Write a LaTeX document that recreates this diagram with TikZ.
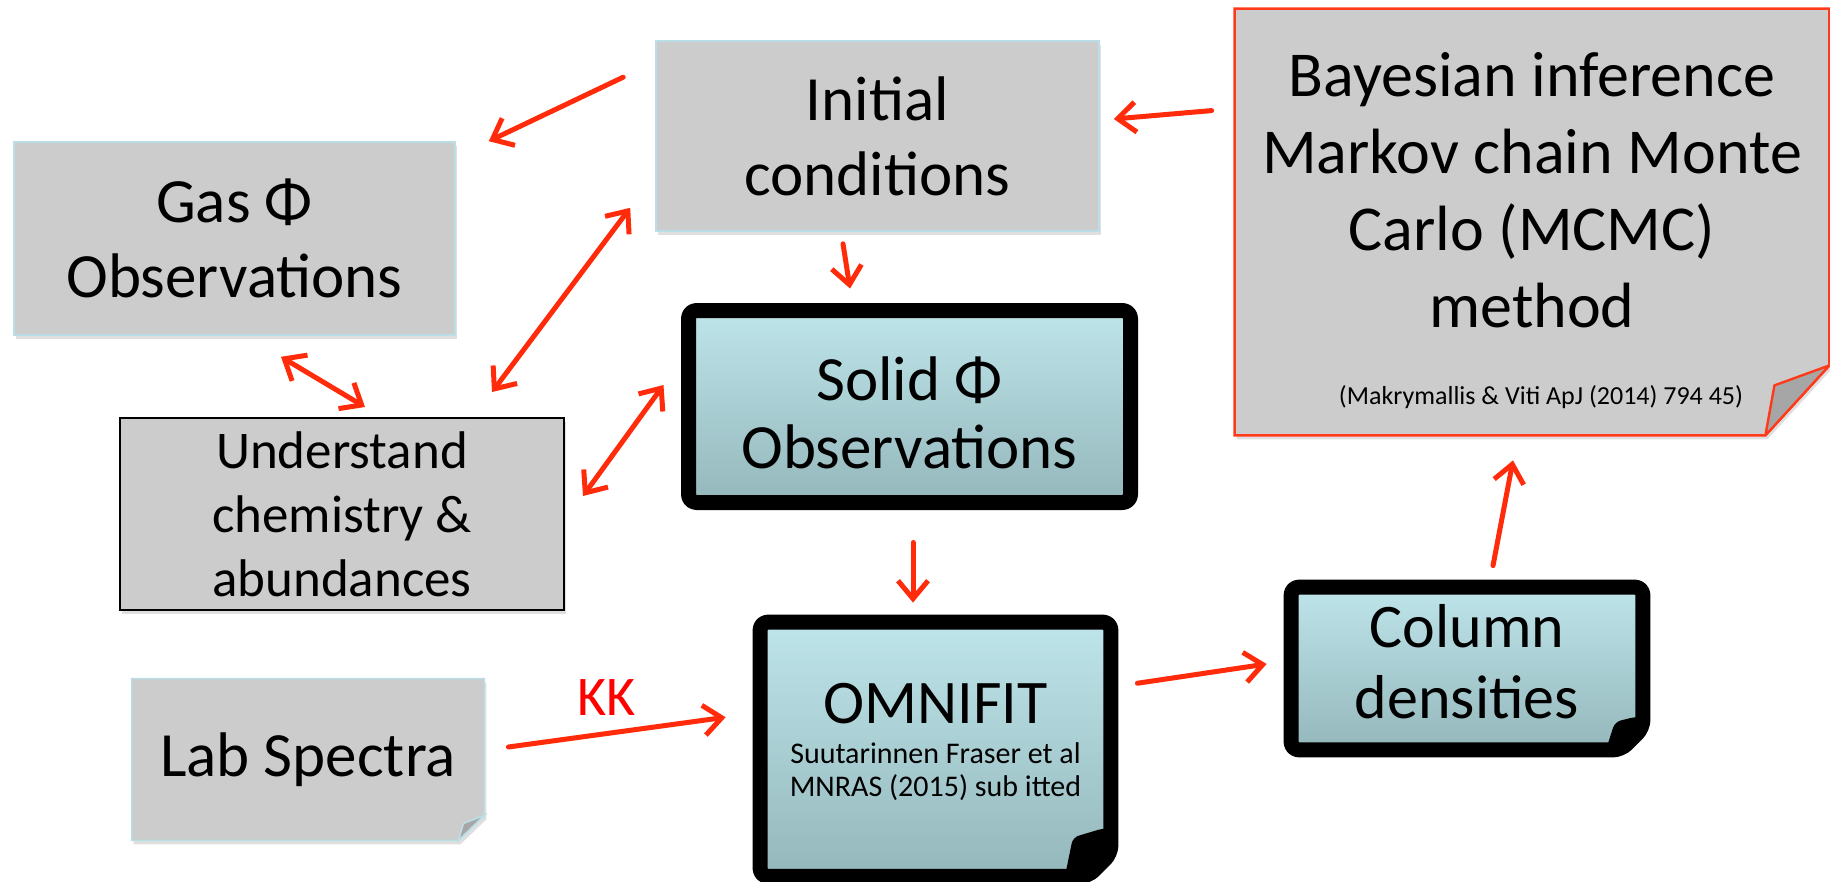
\documentclass[tikz,border=0pt]{standalone}
\usepackage{fontspec}
\setmainfont{Carlito}
\usepackage{tikz}
\usetikzlibrary{arrows.meta,backgrounds,shadows}

\definecolor{boxgray}{HTML}{CCCCCC}
\definecolor{flapgray}{HTML}{A6A6A6}
\definecolor{edgecyan}{HTML}{B9DEE5}
\definecolor{arrowred}{HTML}{FF2B0A}
\definecolor{notered}{HTML}{FF3A1A}
\definecolor{icetop}{HTML}{BEE5EA}
\definecolor{icebottom}{HTML}{94B7BB}

\begin{document}
\begin{tikzpicture}[%
x=0.5pt, y=-0.5pt,
>={Straight Barb[length=9pt,width=15pt]},
every node/.style={inner sep=0pt, align=center},
big/.style={font=\fontsize{31.5}{37.5}\selectfont},
mid/.style={font=\fontsize{26.5}{32}\selectfont},
shade/.style={drop shadow={opacity=0.25,shadow xshift=1pt,shadow yshift=-2pt}},
graybox/.style={fill=boxgray, draw=edgecyan, line width=0.8pt, shade},
chembox/.style={fill=boxgray, draw=black, line width=1pt, shade},
icebox/.style={top color=icetop, bottom color=icebottom, draw=black, line width=7.5pt, rounded corners=4pt, line join=round},
flap/.style={fill=flapgray, draw=edgecyan, line width=0.8pt},
notebody/.style={fill=boxgray, draw=notered, line width=1.2pt, shade},
noteflap/.style={fill=flapgray, draw=notered, line width=1.2pt, line join=round},
link/.style={->, draw=arrowred, line width=2.5pt, line cap=round},
both/.style={link, <->},
kklabel/.style={text=red, font=\fontsize{28}{30}\selectfont}
]

\useasboundingbox (0,0) rectangle (1830,882);

\node[graybox, big, minimum width=220.5pt, minimum height=96.5pt] (gas) at (234.5,238.5) {Gas Φ\\Observations};
\node[graybox, big, minimum width=221.5pt, minimum height=95pt] (init) at (877.5,136) {Initial\\conditions};
\node[chembox, mid, minimum width=222pt, minimum height=96pt] (chem) at (342,514) {Understand\\chemistry \&\\abundances};
\node[big, minimum width=176pt, minimum height=80.5pt] (lab) at (308,759.5) {Lab Spectra};
\node[icebox, minimum width=221pt, minimum height=96pt] (solid) at (909.5,406.5) {};
\node[font=\fontsize{31.5}{34}\selectfont] (solidtxt) at (909.5,412.5) {Solid Φ\\Observations};
\node[minimum width=175pt, minimum height=126.75pt] (omni) at (935.5,749.25) {};
\node[font=\fontsize{31}{34}\selectfont] (omnitxt) at (935.5,704) {OMNIFIT};
\node[font=\fontsize{15}{16.5}\selectfont] (omnicite) at (935.5,772) {Suutarinnen Fraser et al\\MNRAS (2015) sub itted};
\node[minimum width=175.5pt, minimum height=81pt] (col) at (1467,668.5) {};
\node[font=\fontsize{31}{35.5}\selectfont] (coltxt) at (1467,662) {Column\\densities};
\node[minimum width=297pt, minimum height=213pt] (bayes) at (1532,222) {};
\node[font=\fontsize{32}{38.5}\selectfont] (bayestxt) at (1532,190) {Bayesian inference\\Markov chain Monte\\Carlo (MCMC)\\method};
\node[font=\fontsize{13}{15}\selectfont] (bayescite) at (1541,397) {(Makrymallis \& Viti ApJ (2014) 794 45)};

\begin{scope}[on background layer]
\path[graybox] (lab.north west) -- (lab.north east) -- ([shift={(0,-25)}]lab.south east) -- ([shift={(-26,0)}]lab.south east) -- (lab.south west) -- cycle;
\path[flap] ([shift={(-26,0)}]lab.south east) -- ([shift={(-21,-17)}]lab.south east) -- ([shift={(0,-25)}]lab.south east) -- cycle;
\path[notebody] (bayes.north west) -- (bayes.north east) -- ([shift={(0,-70)}]bayes.south east) -- ([shift={(-64,0)}]bayes.south east) -- (bayes.south west) -- cycle;
\path[noteflap] ([shift={(-64,0)}]bayes.south east) -- ([shift={(-55,-50)}]bayes.south east) -- ([shift={(0,-70)}]bayes.south east) -- cycle;
\path[icebox] (omni.north west) -- (omni.north east) -- ([shift={(0,-23)}]omni.south east) -- ([shift={(-23,0)}]omni.south east) -- (omni.south west) -- cycle;
\fill[black, rounded corners=3pt] ([shift={(-46,0)}]omni.south east) -- ([shift={(-38,-39)}]omni.south east) -- ([shift={(-8,-48)}]omni.south east) -- ([shift={(0,-48)}]omni.south east) -- ([shift={(0,-23)}]omni.south east) -- ([shift={(-23,0)}]omni.south east) -- cycle;
\path[icebox] (col.north west) -- (col.north east) -- ([shift={(0,-22)}]col.south east) -- ([shift={(-22,0)}]col.south east) -- (col.south west) -- cycle;
\fill[black, rounded corners=3pt] ([shift={(-37,0)}]col.south east) -- ([shift={(-28,-28)}]col.south east) -- ([shift={(-8,-33)}]col.south east) -- ([shift={(0,-33)}]col.south east) -- ([shift={(0,-22)}]col.south east) -- ([shift={(-22,0)}]col.south east) -- cycle;
\end{scope}

\draw[link] ([shift={(-32,37)}]init.north west) -- ([shift={(33,0)}]gas.north east);
\draw[link] ([shift={(-23,102)}]bayes.north west) -- ([shift={(14,-17)}]init.east);
\draw[link] ([shift={(-34.5,12)}]init.south) -- ([shift={(-59.5,-14.5)}]solid.north);
\draw[both] ([shift={(-25,-24)}]init.south west) -- ([shift={(-73,-25)}]chem.north east);
\draw[both] ([shift={(46.5,21)}]gas.south) -- ([shift={(23,-10)}]chem.north);
\draw[both] ([shift={(18,-18)}]chem.east) -- ([shift={(-17.5,-21.5)}]solid.west);
\draw[link] ([shift={(3.5,32.5)}]solid.south) -- ([shift={(-22.5,-19.5)}]omni.north);
\draw[link] ([shift={(24,-12.5)}]lab.east) -- node[pos=0.45, above=8pt, kklabel] (kk) {KK} ([shift={(-34.5,-32)}]omni.west);
\draw[link] ([shift={(26.5,-66)}]omni.east) -- ([shift={(-24.5,-4.5)}]col.west);
\draw[link] ([shift={(26,-21.5)}]col.north) -- ([shift={(-19,25)}]bayes.south);

\end{tikzpicture}
\end{document}
